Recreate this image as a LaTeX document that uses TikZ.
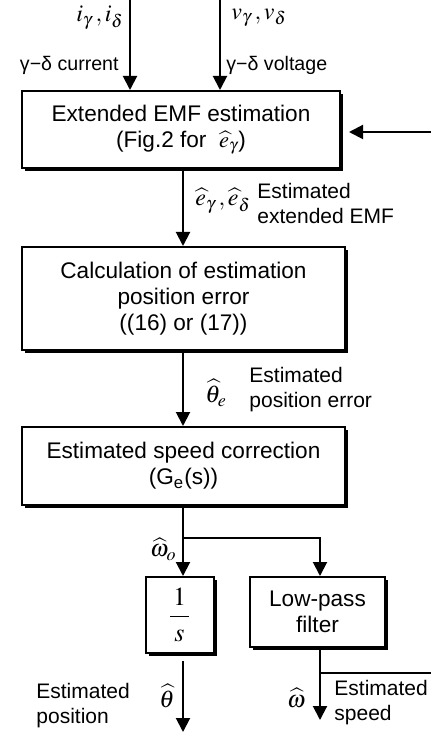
\documentclass[tikz,border=0pt]{standalone}
\usepackage{mathptmx}
\usepackage{fontspec}
\setmainfont{Liberation Sans}
\usetikzlibrary{arrows.meta,shadows}
\tikzset{
  blk/.style={draw, fill=white, line width=1pt, align=center, inner sep=2pt,
    drop shadow={shadow xshift=1.6pt, shadow yshift=-1.6pt, opacity=1, fill=black}},
  sig/.style={line width=1pt, -{Triangle[length=7pt,width=7pt]}},
  lbl/.style={align=left, inner sep=0pt, font=\fontsize{10.5}{12.5}\selectfont},
  mlbl/.style={inner sep=0pt, font=\fontsize{12}{14}\selectfont},
}
\begin{document}
\begin{tikzpicture}[x=0.5pt,y=-0.5pt,font=\fontsize{11.3}{13}\selectfont]
\useasboundingbox (0,0) rectangle (431,732);
% blocks
\node[blk,minimum width=159pt,minimum height=38.5pt] (emf) at (181,129.5) {Extended EMF estimation\\(Fig.2 for \ $\widehat{e}_\gamma$)};
\node[blk,minimum width=161.5pt,minimum height=51.5pt] (err) at (183.5,298.5) {Calculation of estimation\\position error\\((16) or (17))};
\node[blk,minimum width=161.5pt,minimum height=39pt] (spd) at (183.5,466) {Estimated speed correction\\(G\textsubscript{e}(s))};
\node[blk,minimum width=34pt,minimum height=38pt,font=\fontsize{13}{15}\selectfont] (int) at (179.5,615) {$\displaystyle\frac{\,1\,}{s}$};
\node[blk,minimum width=67.5pt,minimum height=35pt] (lpf) at (317.5,612) {Low-pass\\filter};
% free ends
\coordinate (iin) at (130,0);
\coordinate (vin) at (220,0);
\coordinate (fb) at (431,132);
\coordinate (br) at (183,538);
\coordinate (thout) at (183,732);
\coordinate (wbr) at (320,673);
\coordinate (wout) at (431,673);
\coordinate (lpfout) at (320,720);
% signals
\draw[sig] (iin) -- (iin |- emf.north);
\draw[sig] (vin) -- (vin |- emf.north);
\draw[sig] (fb) -- ([xshift=4pt]fb -| emf.east);
\draw[sig] (emf.south -| br) -- (err.north -| br);
\draw[sig] (err.south -| br) -- (spd.north -| br);
\draw[sig] (spd.south -| br) -- (int.north -| br);
\draw[sig] (br) -| (lpf.north -| wbr);
\draw[sig] ([yshift=-3.5pt]int.south -| br) -- (thout);
\draw[sig] (lpf.south -| wbr) -- (lpfout);
\draw[line width=1pt] (wbr) -- (wout);
% labels
\node[mlbl,anchor=east] (ilab) at (124,18) {$i_\gamma\,,i_\delta$};
\node[lbl,anchor=east,font=\fontsize{9.8}{12}\selectfont] (icur) at (119,65) {γ−δ current};
\node[mlbl,anchor=west] (vlab) at (231,18) {$v_\gamma\,,v_\delta$};
\node[lbl,anchor=west,font=\fontsize{9.8}{12}\selectfont] (vvol) at (226,65) {γ−δ voltage};
\node[mlbl,anchor=west] (elab) at (195,201) {$\widehat{e}_\gamma\,,\widehat{e}_\delta$};
\node[lbl,anchor=west] (etxt) at (257,203) {Estimated\\extended EMF};
\node[mlbl,anchor=west] (tlab) at (205,393) {$\widehat{\theta}_e$};
\node[lbl,anchor=west] (ttxt) at (249,390) {Estimated\\position error};
\node[mlbl,anchor=east] (wolab) at (177,549) {$\widehat{\omega}_o$};
\node[mlbl,anchor=east] (thlab) at (175,696) {$\widehat{\theta}$};
\node[lbl,anchor=west] (thtxt) at (36,706) {Estimated\\position};
\node[mlbl,anchor=east] (wlab) at (306,698) {$\widehat{\omega}$};
\node[lbl,anchor=west] (wtxt) at (334,703) {Estimated\\speed};
\end{tikzpicture}
\end{document}
